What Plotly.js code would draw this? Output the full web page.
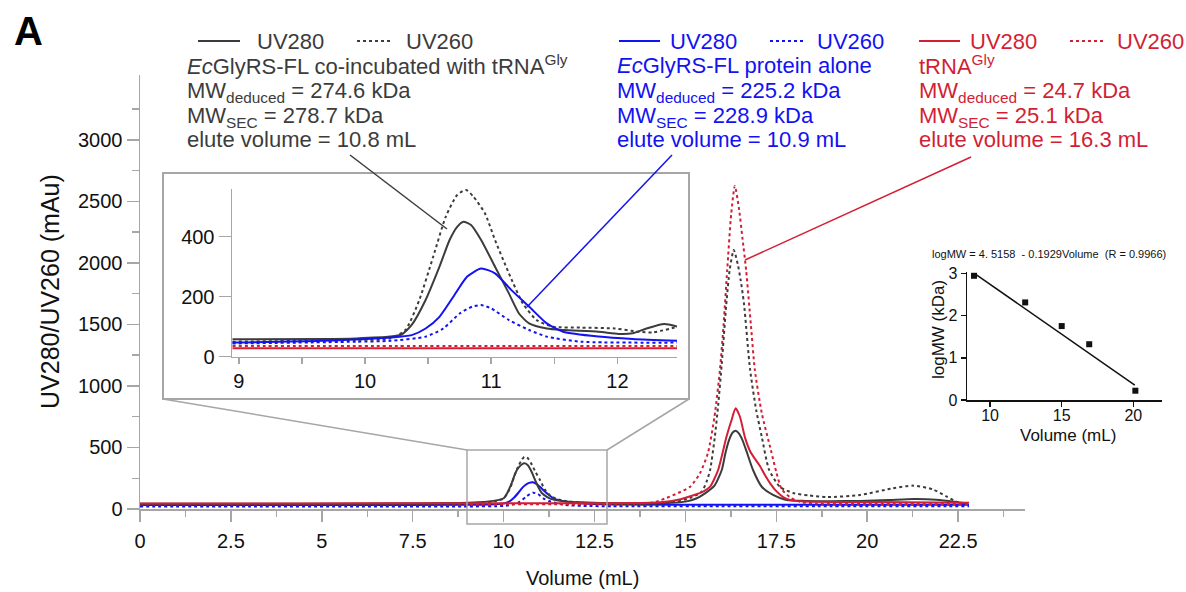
<!DOCTYPE html>
<html><head><meta charset="utf-8">
<script src="https://cdn.plot.ly/plotly-3.0.1.min.js"></script>
<style>html,body{margin:0;padding:0;background:#fff}#chart{width:1186px;height:592px}</style>
</head><body><div id="chart"></div><script>
// ---------- main chromatogram (Volume mL vs mAu) ----------
const complex280X = [0,3,6,7.5,8.5,9.3,9.8,10.0,10.1,10.22,10.32,10.4,10.5,10.57,10.66,10.77,10.86,10.95,11.05,11.18,11.3,11.46,11.8,12.3,13,14,14.6,15.0,15.3,15.54,15.8,16.0,16.1,16.2,16.3,16.38,16.47,16.57,16.68,16.86,17.1,17.41,17.78,18.3,19,19.8,20.6,21.27,21.9,22.4,22.75];
const complex280Y = [42,42,43,45,48,55,70,87,130,209,290,333,362,371,358,303,240,181,130,100,82,70,58,52,48,46,50,60,85,127,190,317,453,560,622,637,615,560,470,317,181,114,73,66,64,65,73,81,76,60,45];
const complex260X = [0,3,6,7.5,8.5,9.3,9.8,10.0,10.1,10.2,10.3,10.4,10.5,10.57,10.65,10.75,10.88,11.0,11.13,11.27,11.45,11.7,12.2,13,14,14.6,15.13,15.45,15.58,15.68,15.81,15.9,16.0,16.12,16.22,16.33,16.44,16.52,16.61,16.78,16.95,17.1,17.3,17.6,17.96,18.4,18.9,19.8,20.7,21.27,21.8,22.19,22.46,22.72];
const complex260Y = [35,35,36,38,42,50,65,85,125,185,270,345,400,425,418,375,300,236,160,112,82,65,50,42,42,52,90,141,220,317,588,840,1180,1650,1950,2106,1990,1860,1672,1130,800,588,320,180,130,110,97,114,168,190,160,100,60,45];
const trna280X = [0,3,6,9,12,13.5,14.3,14.8,15.2,15.49,15.68,15.9,16.13,16.27,16.38,16.5,16.64,16.78,16.92,17.05,17.2,17.35,17.5,17.7,17.9,18.2,18.6,19.5,21,22.8];
const trna280Y = [45,45,46,46,46,48,55,75,110,141,181,317,588,724,819,750,580,470,405,350,270,200,145,95,72,62,58,57,55,50];
const trna260X = [0,3,6,9,12,13.3,13.93,14.2,14.48,14.8,15.13,15.4,15.62,15.8,15.95,16.05,16.15,16.26,16.36,16.47,16.57,16.67,16.8,16.91,17.1,17.35,17.5,17.65,17.9,18.2,18.6,20,22.8];
const trna260Y = [38,38,38,38,38,39,45,60,90,130,181,290,455,750,1130,1500,1943,2400,2626,2450,2200,1943,1500,1130,780,480,300,160,90,55,45,42,40];
const protein280X = [0,3,6,9,9.6,10.0,10.15,10.27,10.4,10.5,10.6,10.7,10.8,10.9,11.0,11.09,11.2,11.37,11.55,11.73,12.0,12.5,13,16,19,22.8];
const protein280Y = [33,33,33,34,37,45,60,87,130,168,195,212,217,205,180,154,125,87,70,60,48,40,36,35,35,34];
const protein260X = [0,3,6,9,10.0,10.3,10.45,10.6,10.72,10.82,10.95,11.09,11.25,11.46,11.7,12.2,13,16,19,22.8];
const protein260Y = [20,20,20,21,25,40,60,95,122,133,120,87,65,48,32,25,22,22,22,22];
const mainYTicks = [0,500,1000,1500,2000,2500,3000];
const mainYMinor = [250,750,1250,1750,2250,2750,3250];

// ---------- zoomed inset (9 - 12.5 mL) ----------
const insetC280X = [8.95,9.66,9.93,10.2,10.29,10.37,10.48,10.59,10.67,10.73,10.78,10.84,10.92,11.03,11.14,11.22,11.3,11.44,11.57,11.85,12.01,12.12,12.23,12.37,12.48];
const insetC280Y = [58,59,61,67,74,106,189,300,389,433,450,439,389,300,211,144,111,94,89,83,76,78,94,109,100];
const insetC260X = [8.95,9.93,10.2,10.32,10.43,10.54,10.64,10.73,10.8,10.86,10.95,11.03,11.14,11.25,11.36,11.49,11.71,11.98,12.17,12.28,12.48];
const insetC260Y = [50,56,61,89,189,333,467,539,556,533,478,389,278,178,122,100,97,94,83,81,100];
const insetP280X = [8.95,9.66,10.2,10.37,10.48,10.59,10.7,10.81,10.92,11.03,11.16,11.3,11.44,11.57,11.85,12.12,12.48];
const insetP280Y = [47,53,64,72,94,133,200,267,294,278,222,167,111,83,67,59,53];
const insetP260X = [8.95,9.93,10.2,10.48,10.62,10.75,10.85,10.92,11.0,11.14,11.3,11.44,11.71,12.48];
const insetP260Y = [44,50,53,67,94,144,167,172,161,122,89,67,50,47];
const insetT280X = [8.95,10.5,12.48];
const insetT280Y = [28,28,28];
const insetT260X = [8.95,10.5,12.48];
const insetT260Y = [36,36,36];

// ---------- calibration curve ----------
const calibX = [8.88,12.45,15.0,16.92,20.14];
const calibY = [2.94,2.31,1.75,1.32,0.22];
const fitX = [8.9,20.1];
const fitY = [3.0,0.35];
const calibTitle = 'logMW = 4. 5158  - 0.1929Volume  (R = 0.9966)';

// ---------- text ----------
const legendNames = ['UV280','UV260'];
const grayLines = ['<i>Ec</i>GlyRS-FL co-incubated with tRNA<sup>Gly</sup>','MW<sub>deduced</sub> = 274.6 kDa','MW<sub>SEC</sub> = 278.7 kDa','elute volume = 10.8 mL'];
const blueLines = ['<i>Ec</i>GlyRS-FL protein alone','MW<sub>deduced</sub> = 225.2 kDa','MW<sub>SEC</sub> = 228.9 kDa','elute volume = 10.9 mL'];
const redLines = ['tRNA<sup>Gly</sup>','MW<sub>deduced</sub> = 24.7 kDa','MW<sub>SEC</sub> = 25.1 kDa','elute volume = 16.3 mL'];

const W = 1186, H = 592;
const px = x => x / W, py = y => 1 - y / H;
const FONT = 'Liberation Sans, Arial, sans-serif';
const GRAY = '#3c3c3c', BLUE = '#1212f2', RED = '#d21f35', AX = '#a6a6a6';

function tr(x, y, color, dash, xa, ya) {
  return {x: x, y: y, xaxis: xa, yaxis: ya, type: 'scatter', mode: 'lines',
    line: {color: color, width: 2, dash: dash, shape: 'spline', smoothing: 0.6},
    hoverinfo: 'skip', showlegend: false};
}
const data = [
  tr(protein260X, protein260Y, BLUE, 'dot', 'x', 'y'),
  tr(protein280X, protein280Y, BLUE, 'solid', 'x', 'y'),
  tr(trna260X, trna260Y, RED, 'dot', 'x', 'y'),
  tr(complex260X, complex260Y, GRAY, 'dot', 'x', 'y'),
  tr(complex280X, complex280Y, GRAY, 'solid', 'x', 'y'),
  tr(trna280X, trna280Y, RED, 'solid', 'x', 'y'),
  tr(insetT260X, insetT260Y, RED, 'dot', 'x2', 'y2'),
  tr(insetT280X, insetT280Y, RED, 'solid', 'x2', 'y2'),
  tr(insetP260X, insetP260Y, BLUE, 'dot', 'x2', 'y2'),
  tr(insetC260X, insetC260Y, GRAY, 'dot', 'x2', 'y2'),
  tr(insetC280X, insetC280Y, GRAY, 'solid', 'x2', 'y2'),
  tr(insetP280X, insetP280Y, BLUE, 'solid', 'x2', 'y2'),
  {x: fitX, y: fitY, xaxis: 'x3', yaxis: 'y3', type: 'scatter', mode: 'lines',
   line: {color: '#111', width: 1.5}, hoverinfo: 'skip', showlegend: false},
  {x: calibX, y: calibY, xaxis: 'x3', yaxis: 'y3', type: 'scatter', mode: 'markers',
   marker: {symbol: 'square', size: 6, color: '#111'}, hoverinfo: 'skip', showlegend: false}
];

const baseAx = {showgrid: false, zeroline: false, showline: true, ticks: 'outside', fixedrange: true};
const layout = {
  width: W, height: H, margin: {l: 0, r: 0, t: 0, b: 0},
  paper_bgcolor: '#fff', plot_bgcolor: 'rgba(0,0,0,0)', showlegend: false,
  font: {family: FONT, color: '#111'},
  xaxis: Object.assign({}, baseAx, {domain: [px(140), px(1025)], range: [0, 24.34], anchor: 'y',
    tick0: 0, dtick: 2.5, ticklen: 11, tickwidth: 1.5, tickcolor: AX, linecolor: AX, linewidth: 1.5,
    tickfont: {size: 20, color: '#111'}, ticklabelstandoff: 2,
    minor: {dtick: 1.25, ticklen: 6, tickwidth: 1.5, tickcolor: AX, ticks: 'outside'}}),
  yaxis: Object.assign({}, baseAx, {domain: [py(509), py(75)], range: [0, 3528], anchor: 'x',
    tickmode: 'array', tickvals: mainYTicks, ticklen: 12, tickwidth: 1.5, tickcolor: AX, linecolor: AX, linewidth: 1.5,
    tickfont: {size: 20, color: '#111'},
    minor: {tickmode: 'array', tickvals: mainYMinor, ticklen: 7, tickwidth: 1.5, tickcolor: AX, ticks: 'outside'}}),
  xaxis2: Object.assign({}, baseAx, {domain: [px(232), px(677)], range: [8.946, 12.472], anchor: 'y2',
    tick0: 9, dtick: 1, ticklen: 6, tickwidth: 1.5, tickcolor: AX, linecolor: AX, linewidth: 1.5,
    tickfont: {size: 20, color: '#111'},
    minor: {dtick: 0.5, ticklen: 6, tickwidth: 1.5, tickcolor: AX, ticks: 'outside'}}),
  yaxis2: Object.assign({}, baseAx, {domain: [py(356.7), py(189)], range: [0, 559], anchor: 'x2',
    tick0: 0, dtick: 200, ticklen: 12, tickwidth: 1.5, tickcolor: AX, linecolor: AX, linewidth: 1.5,
    tickfont: {size: 20, color: '#111'}}),
  xaxis3: Object.assign({}, baseAx, {domain: [px(967), px(1162)], range: [8.39, 22.0], anchor: 'y3',
    tickvals: [10, 15, 20], ticklen: 5, tickwidth: 1.5, tickcolor: '#111', linecolor: '#111', linewidth: 1.5,
    tickfont: {size: 16, color: '#111'}, ticklabelstandoff: -5}),
  yaxis3: Object.assign({}, baseAx, {domain: [py(400), py(272)], range: [0, 3.03], anchor: 'x3',
    tickvals: [0, 1, 2, 3], ticklen: 5, tickwidth: 1.5, tickcolor: '#111', linecolor: '#111', linewidth: 1.5,
    tickfont: {size: 16, color: '#111'}}),
  shapes: [], annotations: []
};

function pline(x0, y0, x1, y1, color, width, dash) {
  layout.shapes.push({type: 'line', xref: 'paper', yref: 'paper', x0: px(x0), y0: py(y0), x1: px(x1), y1: py(y1),
    line: {color: color, width: width, dash: dash || 'solid'}});
}
// inset frame, zoom box and connectors
layout.shapes.push({type: 'rect', xref: 'paper', yref: 'paper', x0: px(163), x1: px(689), y0: py(399), y1: py(173),
  line: {color: AX, width: 2}, fillcolor: 'rgba(0,0,0,0)'});
layout.shapes.push({type: 'rect', xref: 'paper', yref: 'paper', x0: px(467), x1: px(607), y0: py(524), y1: py(450),
  line: {color: AX, width: 1.5}, fillcolor: 'rgba(0,0,0,0)'});
pline(163, 399, 467, 450, AX, 1.5);
pline(689, 399, 607, 450, AX, 1.5);
// leader lines
pline(350, 155, 447, 229, GRAY, 1.5);
pline(527, 307, 672, 155, BLUE, 1.5);
pline(745, 260, 971, 157, RED, 1.5);

function ann(text, x, y, opts) {
  layout.annotations.push(Object.assign({text: text, xref: 'paper', yref: 'paper', x: px(x), y: py(y),
    xanchor: 'left', yanchor: 'middle', showarrow: false, font: {family: FONT, size: 22, color: '#111'}}, opts || {}));
}
// legend rows + description blocks
const blocks = [
  {x: 187, color: GRAY, lines: grayLines, solid: [198, 240], dot: [357, 392], t1: 255, t2: 404},
  {x: 617, color: BLUE, lines: blueLines, solid: [619, 660], dot: [770, 805], t1: 668, t2: 815},
  {x: 919, color: RED, lines: redLines, solid: [919, 960], dot: [1070, 1105], t1: 968, t2: 1115}
];
const lineY = [67, 92, 117, 141];
blocks.forEach(b => {
  pline(b.solid[0], 41, b.solid[1], 41, b.color, 1.8);
  pline(b.dot[0], 41, b.dot[1], 41, b.color, 1.8, 'dot');
  ann(legendNames[0], b.t1, 41, {font: {family: FONT, size: 22, color: b.color}});
  ann(legendNames[1], b.t2, 41, {font: {family: FONT, size: 22, color: b.color}});
  b.lines.forEach((t, i) => {
    const c = lineY[i];
    const hasSup = t.indexOf('<sup>') >= 0;
    ann(t, b.x - 2, hasSup ? c + 13.6 : c - 16, {yanchor: hasSup ? 'bottom' : 'top',
      font: {family: FONT, size: 22, color: b.color}});
  });
});
// panel letter
ann('<b>A</b>', 28, 31, {xanchor: 'center', font: {family: FONT, size: 40, color: '#000'}});
// axis titles
ann('Volume (mL)', 582, 578, {xanchor: 'center', font: {family: FONT, size: 20, color: '#111'}});
ann('UV280/UV260 (mAu)', 50, 292, {xanchor: 'center', textangle: -90, font: {family: FONT, size: 25, color: '#111'}});
ann('Volume (mL)', 1068, 435, {xanchor: 'center', font: {family: FONT, size: 17, color: '#111'}});
ann('logMW (kDa)', 938, 330, {xanchor: 'center', textangle: -90, font: {family: FONT, size: 17, color: '#111'}});
ann(calibTitle, 1049, 254, {xanchor: 'center', font: {family: FONT, size: 11, color: '#111'}});

Plotly.newPlot('chart', data, layout, {staticPlot: true, displayModeBar: false});
</script></body></html>
